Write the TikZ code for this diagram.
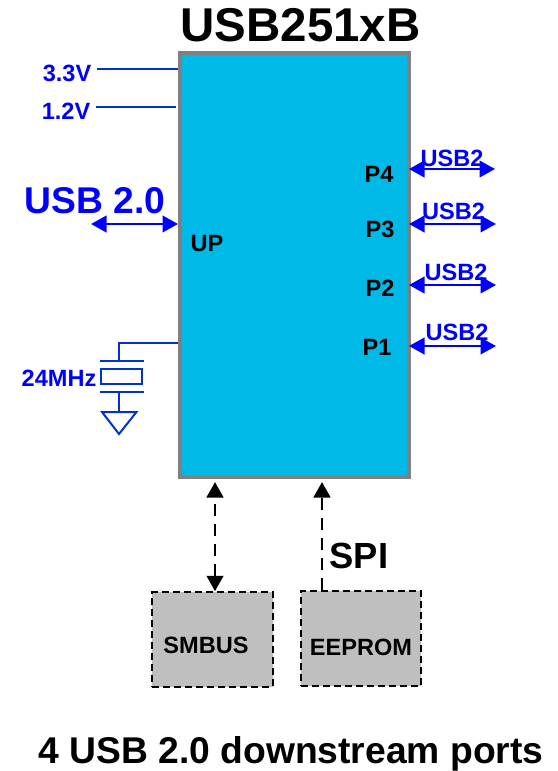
\documentclass[tikz,border=0pt]{standalone}
\usepackage{fontspec}
\setmainfont{Liberation Sans}
\usepackage{xcolor}
\usepackage{tikz}
\usetikzlibrary{arrows.meta,positioning,calc,shapes.geometric}
\definecolor{chipblue}{HTML}{00B9E6}
\definecolor{wireblue}{HTML}{0033CC}
\begin{document}
\begin{tikzpicture}[
    font=\bfseries,
    chip/.style={
        draw=gray,
        line width=0.08cm,
        fill=chipblue,
        minimum width=4.58cm,
        minimum height=8.48cm
    },
    membox/.style={
        draw=black,
        dashed,
        dash pattern=on 0.14cm off 0.08cm,
        line width=0.04cm,
        fill=black!25,
        minimum width=2.41cm,
        minimum height=1.89cm
    },
    bigtext/.style={inner sep=0pt, font=\fontsize{27}{29}\bfseries},
    hugeblue/.style={inner sep=0pt, text=blue, font=\fontsize{21.2}{24}\bfseries},
    midtext/.style={inner sep=0pt, font=\fontsize{20.7}{24}\bfseries},
    pintext/.style={inner sep=0pt, font=\fontsize{13.4}{15}\bfseries},
    bluetext/.style={inner sep=0pt, text=blue, font=\fontsize{13.4}{15}\bfseries},
    wire/.style={draw=wireblue, line width=0.04cm},
    usbarr/.style={
        {Triangle[length=0.31cm,width=0.33cm]}-{Triangle[length=0.31cm,width=0.33cm]},
        draw=blue,
        line width=0.05cm
    },
    portarr/.style={usbarr, shorten <=-0.04cm},
    busarr/.style={
        -{Triangle[length=0.31cm,width=0.33cm]},
        draw=black,
        line width=0.055cm,
        dash pattern=on 0.24cm off 0.16cm
    }
]

\useasboundingbox (0,0) rectangle (11.14,-15.42);

\node[chip] (chip) at (5.89,-5.30) {};
\node[bigtext] (title) at (6.01,-0.50) {USB251xB};

\node[pintext] (up) at (4.14,-4.88) {UP};
\node[pintext] (p4) at (7.58,-3.48) {P4};
\node[pintext] (p3) at (7.60,-4.58) {P3};
\node[pintext] (p2) at (7.60,-5.76) {P2};
\node[pintext] (p1) at (7.54,-6.94) {P1};

% supply rails
\node[bluetext] (vhigh) at (1.34,-1.46) {3.3V};
\node[bluetext] (vlow) at (1.32,-2.22) {1.2V};
\coordinate (vhighend) at (1.94,-1.38);
\coordinate (vlowend) at (1.92,-2.14);
\draw[wire] (vhighend) -- (vhighend -| chip.west);
\draw[wire] (vlowend) -- ([xshift=-0.04cm]vlowend -| chip.west);

% upstream port
\node[hugeblue] (usbup) at (1.90,-4.02) {USB 2.0};
\coordinate (usbupend) at (1.82,-4.48);
\draw[usbarr] (usbupend) -- (usbupend -| chip.west);

% downstream ports
\coordinate (p4end) at (9.90,-3.38);
\coordinate (p3end) at (9.92,-4.48);
\coordinate (p2end) at (9.92,-5.70);
\coordinate (p1end) at (9.92,-6.92);
\draw[portarr] (p4end -| chip.east) -- (p4end);
\draw[portarr] (p3end -| chip.east) -- (p3end);
\draw[portarr] (p2end -| chip.east) -- (p2end);
\draw[portarr] (p1end -| chip.east) -- (p1end);
\node[bluetext] (usbp4) at (9.04,-3.17) {USB2};
\node[bluetext] (usbp3) at (9.07,-4.22) {USB2};
\node[bluetext] (usbp2) at (9.12,-5.45) {USB2};
\node[bluetext] (usbp1) at (9.14,-6.65) {USB2};

% crystal
\node[bluetext] (xtal) at (1.18,-7.56) {24MHz};
\node[draw=wireblue, line width=0.04cm, minimum width=0.83cm, minimum height=0.30cm, inner sep=0pt] (can) at (2.43,-7.53) {};
\coordinate (platetop) at (2.38,-7.22);
\coordinate (platelow) at (2.38,-7.84);
\coordinate (gndtop) at (2.38,-8.24);
\coordinate (clkin) at (2.38,-6.86);
\draw[wire] (2.00,-7.22) -- (2.88,-7.22);
\draw[wire] (2.00,-7.84) -- (2.88,-7.84);
\draw[wire] (clkin -| chip.west) -- (clkin) -- (platetop);
\draw[wire] (platelow) -- (gndtop);
\draw[wire] (2.04,-8.24) -- (2.73,-8.24) -- (2.38,-8.68) -- cycle;

% memories
\node[membox] (smbus) at (4.25,-12.79) {};
\node[membox] (eeprom) at (7.22,-12.77) {};
\node[pintext] (smbustext) at (4.12,-12.90) {SMBUS};
\node[pintext] (eepromtext) at (7.22,-12.94) {EEPROM};
\coordinate (smbusend) at (4.30,-9.64);
\coordinate (eepromend) at (6.44,-9.64);
\draw[busarr, {Triangle[length=0.31cm,width=0.33cm]}-{Triangle[length=0.31cm,width=0.33cm]}] (smbusend |- smbus.north) -- (smbusend);
\draw[busarr] (eepromend |- eeprom.north) -- (eepromend);
\node[midtext] (spi) at (7.18,-11.12) {SPI};

\node[inner sep=0pt, font=\fontsize{21.2}{24}\bfseries] (caption) at (5.82,-15.08) {4 USB 2.0 downstream ports};

\end{tikzpicture}
\end{document}
